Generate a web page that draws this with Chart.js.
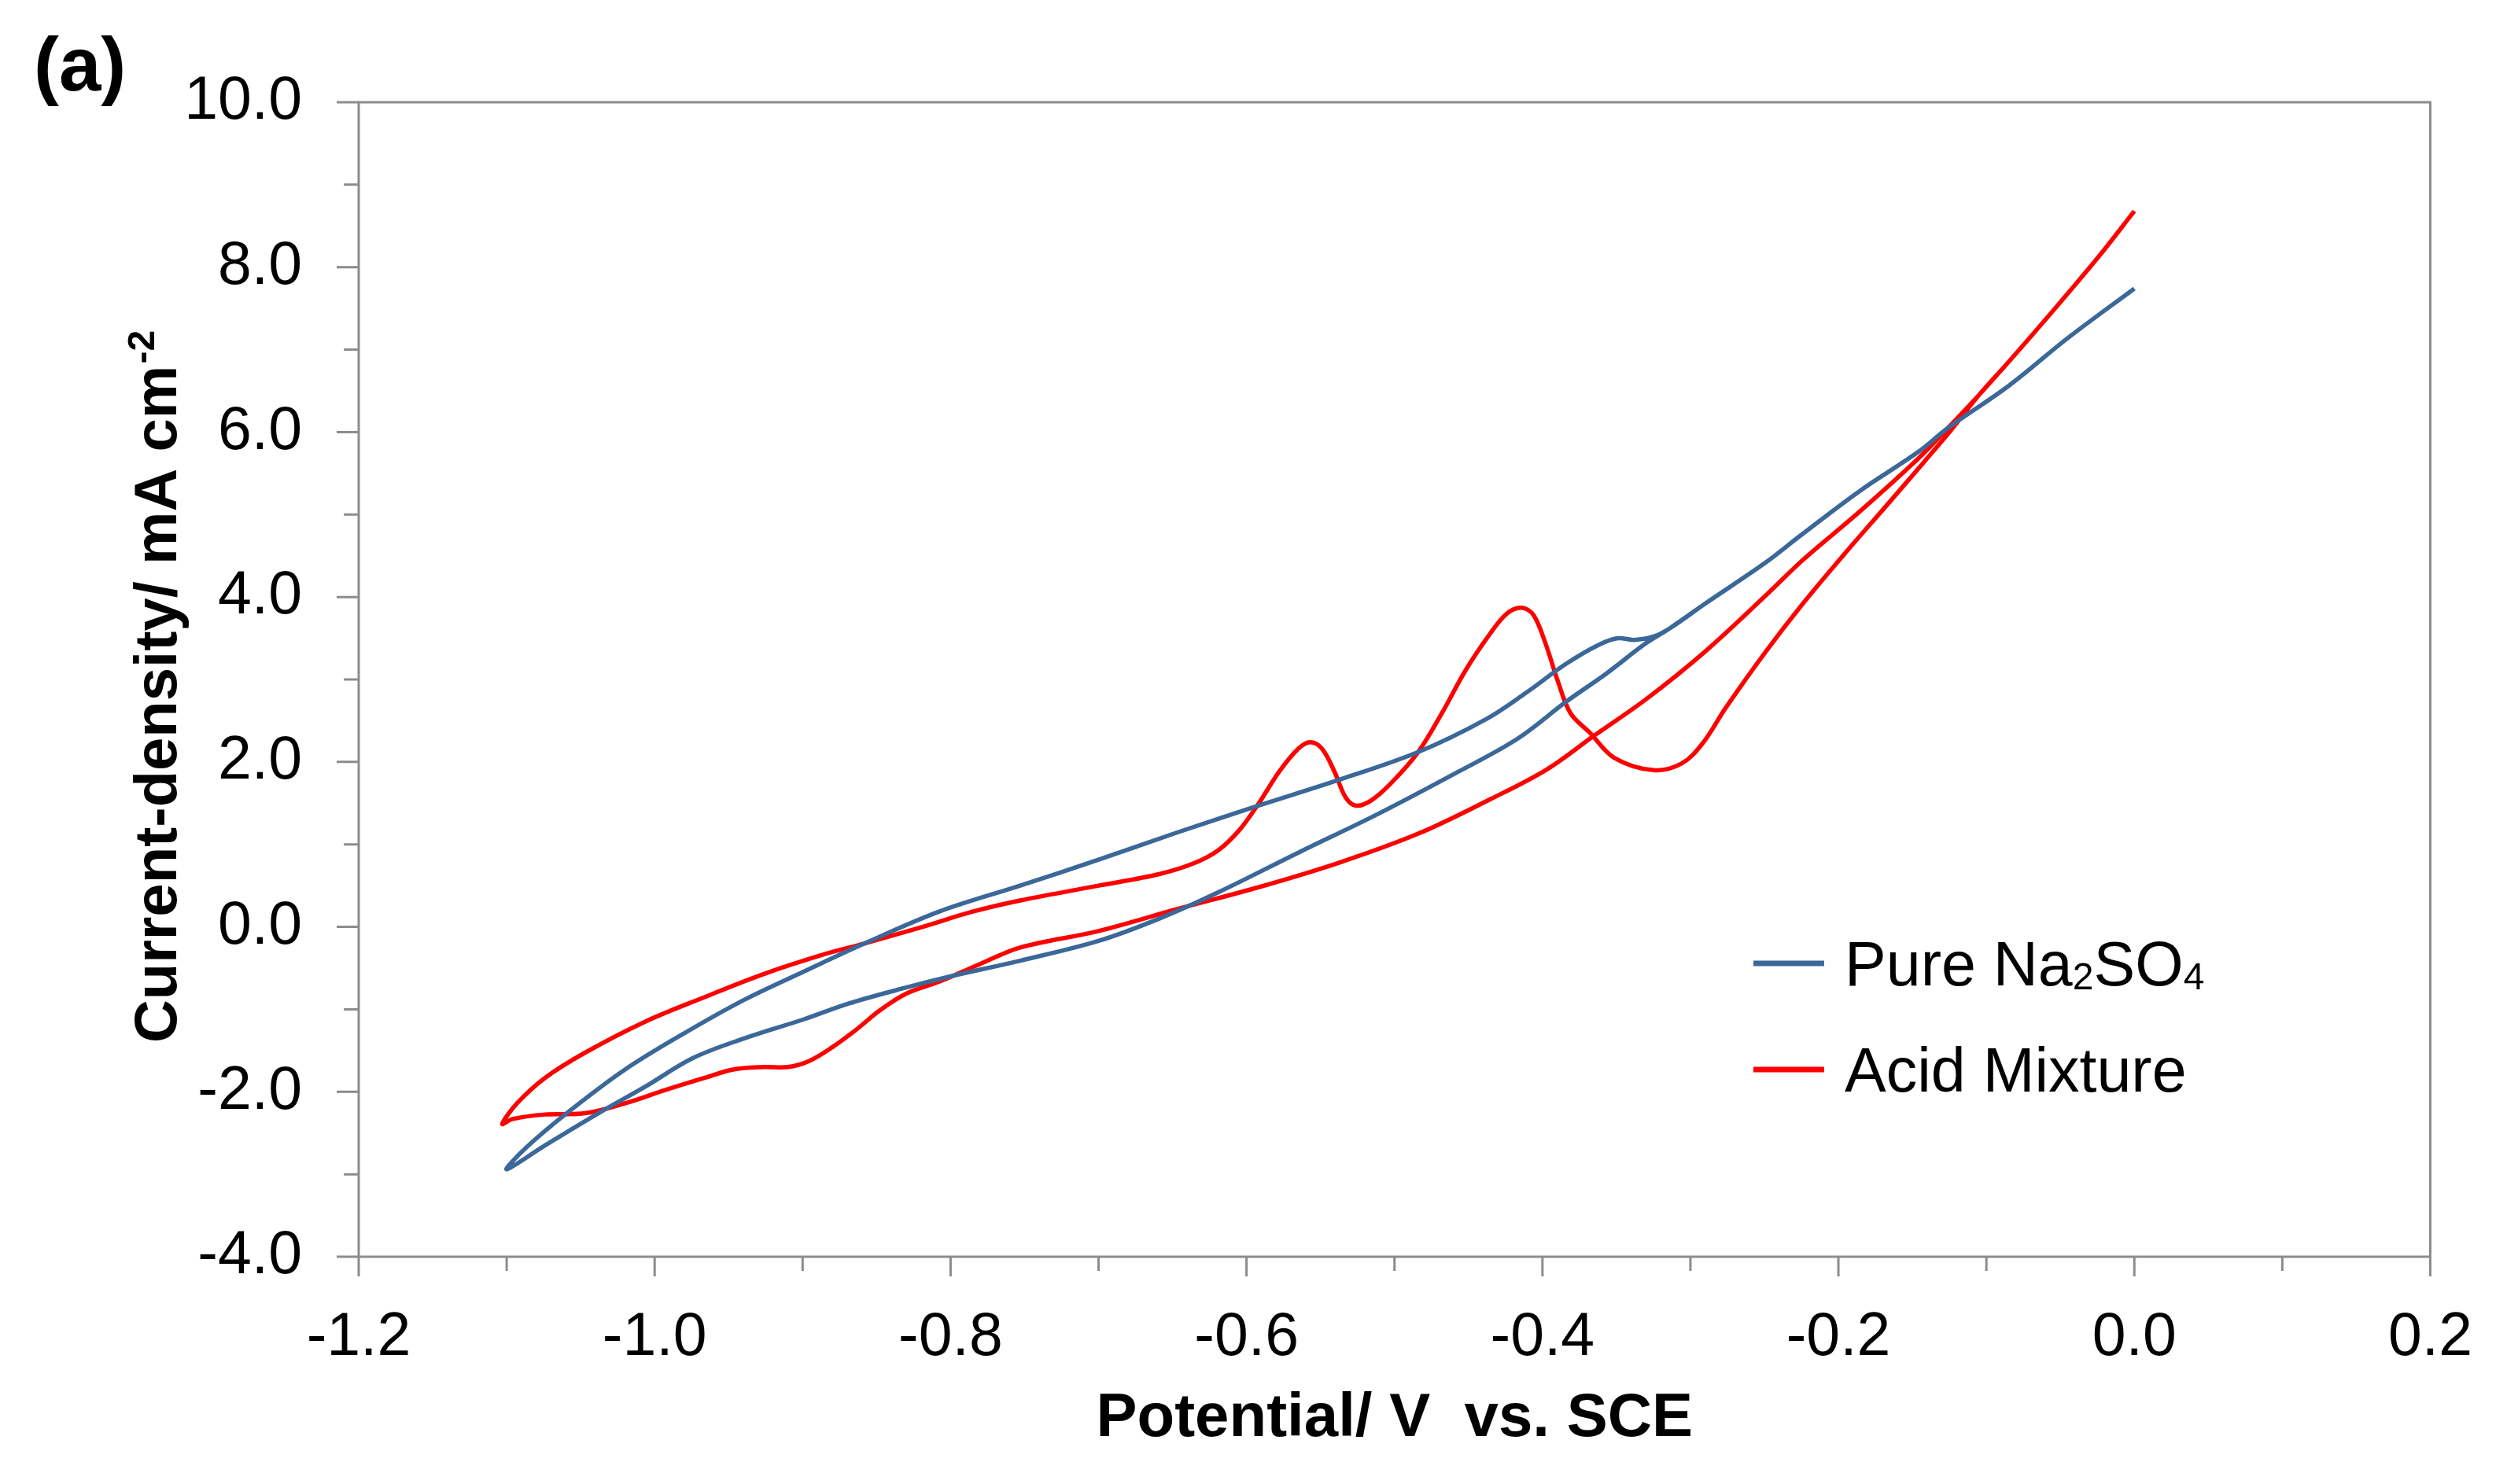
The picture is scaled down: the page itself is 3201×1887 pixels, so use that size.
<!DOCTYPE html>
<html>
<head>
<meta charset="utf-8">
<title>CV curves</title>
<script src="https://cdn.jsdelivr.net/npm/chart.js@4.4.1/dist/chart.umd.min.js"></script>
<style>
  html, body { margin: 0; padding: 0; background: #fff; }
  #wrap { width: 3201px; height: 1887px; }
</style>
</head>
<body>
<div id="wrap"><canvas id="cvChart" width="3201" height="1887"></canvas></div>
<script>
// Potential (V vs. SCE) and current density (mA cm-2)
const naPotential = [
  0.0, -0.045, -0.085, -0.126, -0.146, -0.186, -0.226, -0.249, -0.29, -0.314,
  -0.325, -0.338, -0.349, -0.362, -0.384, -0.411, -0.438, -0.484, -0.538, -0.592,
  -0.646, -0.70, -0.753, -0.807, -0.858, -0.899, -0.939, -0.98, -1.02, -1.058,
  -1.087, -1.10,
  -1.074, -1.036, -1.0065, -0.974, -0.939, -0.899, -0.869, -0.831, -0.80, -0.753,
  -0.70, -0.659, -0.619, -0.565, -0.511, -0.457, -0.417, -0.384, -0.357, -0.330,
  -0.314, -0.29, -0.249, -0.226, -0.186, -0.146, -0.126, -0.085, -0.045, 0.0
];
const naCurrent = [
  7.74, 7.14, 6.56, 6.05, 5.76, 5.28, 4.74, 4.42, 3.92, 3.62,
  3.52, 3.48, 3.50, 3.42, 3.19, 2.84, 2.52, 2.12, 1.78, 1.47,
  1.15, 0.815, 0.50, 0.19, -0.20, -0.54, -0.88, -1.29, -1.73, -2.24,
  -2.68, -2.94,
  -2.65, -2.24, -1.94, -1.59, -1.35, -1.12, -0.93, -0.74, -0.60, -0.41,
  -0.17, 0.10, 0.42, 0.90, 1.37, 1.88, 2.28, 2.73, 3.07, 3.44,
  3.62, 3.92, 4.42, 4.74, 5.28, 5.76, 6.05, 6.56, 7.14, 7.74
];

const acidPotential = [
  0.0, -0.024, -0.055, -0.085, -0.105, -0.126, -0.146, -0.186, -0.224, -0.249,
  -0.29, -0.33, -0.365, -0.397, -0.435, -0.484, -0.538, -0.592, -0.646, -0.70,
  -0.753, -0.78, -0.807, -0.83, -0.848, -0.864, -0.88, -0.896, -0.91, -0.926,
  -0.947, -0.966, -0.993, -1.02, -1.047, -1.074, -1.096, -1.103,
  -1.093, -1.074, -1.047, -1.0065, -0.966, -0.926, -0.885, -0.858, -0.818, -0.786,
  -0.753, -0.70, -0.659, -0.635, -0.619, -0.605, -0.592, -0.578, -0.565, -0.557,
  -0.549, -0.5405, -0.533, -0.526, -0.516, -0.503, -0.484, -0.468, -0.452, -0.436,
  -0.424, -0.414, -0.406, -0.398, -0.39, -0.381, -0.368, -0.3515, -0.325, -0.306,
  -0.292, -0.276, -0.249, -0.224, -0.196, -0.166, -0.142, -0.124, -0.105, -0.085,
  -0.055, -0.024, 0.0
];
const acidCurrent = [
  8.68, 8.13, 7.47, 6.85, 6.45, 6.05, 5.68, 5.03, 4.45, 4.02,
  3.34, 2.76, 2.32, 1.91, 1.55, 1.13, 0.775, 0.48, 0.22, -0.05,
  -0.25, -0.45, -0.66, -0.81, -1.015, -1.25, -1.46, -1.63, -1.70, -1.70,
  -1.73, -1.83, -1.98, -2.14, -2.26, -2.275, -2.33, -2.39,
  -2.14, -1.83, -1.525, -1.15, -0.85, -0.57, -0.33, -0.20, 0.005, 0.18,
  0.32, 0.50, 0.64, 0.775, 0.93, 1.17, 1.49, 1.88, 2.16, 2.24,
  2.16, 1.88, 1.57, 1.47, 1.53, 1.73, 2.12, 2.59, 3.11, 3.54,
  3.80, 3.87, 3.78, 3.44, 3.00, 2.59, 2.355, 2.05, 1.90, 1.98,
  2.22, 2.66, 3.34, 3.92, 4.52, 5.14, 5.64, 6.02, 6.45, 6.85,
  7.47, 8.13, 8.68
];

const seriesNames = ["Pure Na2SO4", "Acid Mixture"];
const seriesColors = ["#3b6899", "#ff0000"];
const xTickStep = 0.2;
const yTickStep = 2;

const FONT = '"Liberation Sans", Arial, Helvetica, sans-serif';
const AXIS_GRAY = "#8c8c8c";

function toPoints(xs, ys) {
  return xs.map((x, i) => ({ x: x, y: ys[i] }));
}

function fmt(v) {
  if (Math.abs(v) < 1e-9) v = 0;
  return v.toFixed(1);
}

// Frame, major/minor tick marks, titles and legend
const decorations = {
  id: "decorations",
  afterDraw(chart) {
    const ctx = chart.ctx;
    const area = chart.chartArea;
    const xs = chart.scales.x;
    const ys = chart.scales.y;

    ctx.save();
    ctx.strokeStyle = AXIS_GRAY;
    ctx.lineWidth = 3;
    ctx.strokeRect(area.left, area.top, area.right - area.left, area.bottom - area.top);

    // x ticks
    const xv = xs.ticks.map(t => t.value);
    ctx.beginPath();
    xv.forEach((v, i) => {
      const px = xs.getPixelForValue(v);
      ctx.moveTo(px, area.bottom);
      ctx.lineTo(px, area.bottom + 25);
      if (i < xv.length - 1) {
        const mx = xs.getPixelForValue((v + xv[i + 1]) / 2);
        ctx.moveTo(mx, area.bottom);
        ctx.lineTo(mx, area.bottom + 18);
      }
    });
    // y ticks
    const yv = ys.ticks.map(t => t.value);
    yv.forEach((v, i) => {
      const py = ys.getPixelForValue(v);
      ctx.moveTo(area.left, py);
      ctx.lineTo(area.left - 28, py);
      if (i < yv.length - 1) {
        const my = ys.getPixelForValue((v + yv[i + 1]) / 2);
        ctx.moveTo(area.left, my);
        ctx.lineTo(area.left - 19, my);
      }
    });
    ctx.stroke();

    ctx.fillStyle = "#000";

    // panel label
    ctx.font = "bold 96px " + FONT;
    ctx.textAlign = "left";
    ctx.textBaseline = "alphabetic";
    ctx.fillText("(a)", 43, 115);

    // x title
    ctx.font = "bold 78px " + FONT;
    ctx.textAlign = "center";
    ctx.fillText("Potential/ V  vs. SCE", (area.left + area.right) / 2, 1826);

    // y title with superscript
    ctx.save();
    ctx.translate(224, 874);
    ctx.rotate(-Math.PI / 2);
    ctx.textAlign = "left";
    const main = "Current-density/ mA cm";
    const sup = "-2";
    ctx.font = "bold 76px " + FONT;
    const wMain = ctx.measureText(main).width;
    ctx.font = "bold 48px " + FONT;
    const wSup = ctx.measureText(sup).width;
    const x0 = -(wMain + wSup) / 2;
    ctx.font = "bold 76px " + FONT;
    ctx.fillText(main, x0, 0);
    ctx.font = "bold 48px " + FONT;
    ctx.fillText(sup, x0 + wMain + 2, -28);
    ctx.restore();

    // legend
    const legendRows = [
      { color: seriesColors[0], y: 1225, parts: [["Pure Na", 0], ["2", 1], ["SO", 0], ["4", 1]] },
      { color: seriesColors[1], y: 1360, parts: [["Acid Mixture", 0]] }
    ];
    legendRows.forEach(row => {
      ctx.strokeStyle = row.color;
      ctx.lineWidth = 7;
      ctx.beginPath();
      ctx.moveTo(2229, row.y);
      ctx.lineTo(2319, row.y);
      ctx.stroke();
      let tx = 2345;
      const base = row.y + 28;
      ctx.textAlign = "left";
      row.parts.forEach(([txt, isSub]) => {
        ctx.font = (isSub ? "48px " : "79px ") + FONT;
        ctx.fillText(txt, tx, isSub ? base + 5 : base);
        tx += ctx.measureText(txt).width;
      });
    });
    ctx.restore();
  }
};

new Chart(document.getElementById("cvChart"), {
  type: "scatter",
  data: {
    datasets: [
      {
        label: seriesNames[0],
        data: toPoints(naPotential, naCurrent),
        showLine: true,
        borderColor: seriesColors[0],
        borderWidth: 5.5,
        pointRadius: 0,
        tension: 0.35,
        fill: false
      },
      {
        label: seriesNames[1],
        data: toPoints(acidPotential, acidCurrent),
        showLine: true,
        borderColor: seriesColors[1],
        borderWidth: 5.5,
        pointRadius: 0,
        tension: 0.35,
        fill: false
      }
    ]
  },
  options: {
    responsive: false,
    animation: false,
    devicePixelRatio: 1,
    layout: { padding: { left: 0, top: 130, right: 93, bottom: 0 } },
    plugins: { legend: { display: false }, tooltip: { enabled: false } },
    scales: {
      x: {
        type: "linear",
        min: -1.2,
        max: 0.2,
        afterFit: s => { s.height = 289; },
        grid: { display: false, drawTicks: false },
        border: { display: false },
        ticks: {
          stepSize: xTickStep,
          padding: 58,
          color: "#000",
          font: { family: FONT, size: 77 },
          maxRotation: 0,
          callback: v => fmt(v)
        }
      },
      y: {
        type: "linear",
        min: -4,
        max: 10,
        afterFit: s => { s.width = 456; },
        grid: { display: false, drawTicks: false },
        border: { display: false },
        ticks: {
          stepSize: yTickStep,
          padding: 72,
          color: "#000",
          font: { family: FONT, size: 77 },
          callback: v => fmt(v)
        }
      }
    }
  },
  plugins: [decorations]
});
</script>
</body>
</html>
